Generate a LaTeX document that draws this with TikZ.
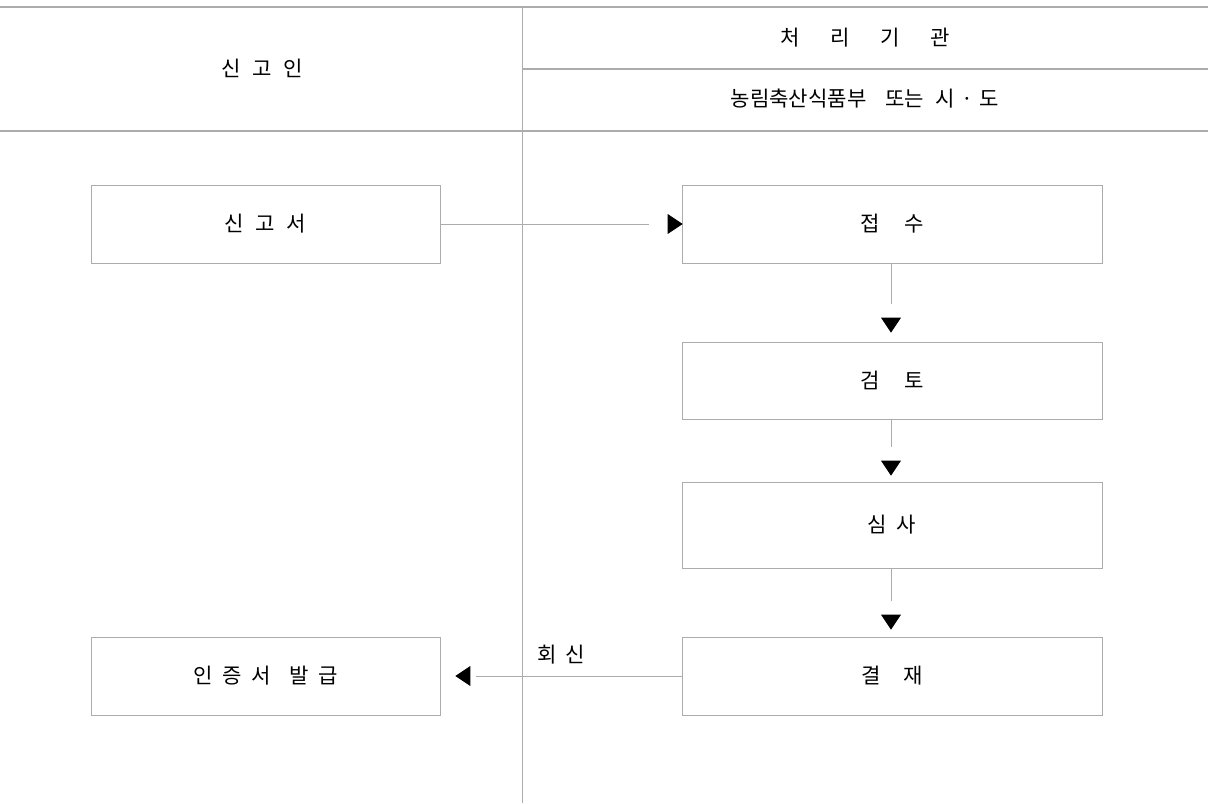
\documentclass[tikz,border=0pt]{standalone}
\usepackage{fontspec}
\setmainfont{Noto Sans CJK KR}
\usetikzlibrary{shapes.geometric,positioning}
\definecolor{rulegray}{RGB}{172,172,172}
\newcommand{\gapem}[1]{\hspace{#1em}}

\begin{document}
\begin{tikzpicture}[x=0.025cm,y=-0.025cm,
	font=\fontsize{15}{18}\selectfont,
	box/.style={draw=rulegray,line width=0.6pt,inner sep=0pt,minimum height=1.95cm},
	lbox/.style={box,minimum width=8.725cm},
	rbox/.style={box,minimum width=10.5cm},
	tip/.style={isosceles triangle,isosceles triangle stretches,fill=black,inner sep=0pt,
		minimum width=0.5cm,minimum height=0.375cm},
	flow/.style={draw=rulegray,line width=0.6pt}]

\useasboundingbox (0,0) rectangle (1208,803);

% header
\draw[rulegray,line width=1.4pt] (0,7) -- (1208,7);
\draw[rulegray,line width=1pt] (522,69) -- (1208,69);
\draw[rulegray,line width=1pt] (0,131) -- (1208,131);
\draw[rulegray,line width=0.6pt] (522,7) -- (522,803);

\node (who) at (262,68) {신\gapem{0.55}고\gapem{0.55}인};
\node (org) at (865,38) {처\gapem{1.45}리\gapem{1.45}기\gapem{1.45}관};
\node (dept) at (865,99) {농림축산식품부\gapem{0.9}또는\gapem{0.55}시\gapem{0.3}·\gapem{0.3}도};

% boxes
\node[lbox] (apply) at (265.5,224) {신\gapem{0.55}고\gapem{0.55}서};
\node[rbox] (recv) at (892,224) {접\gapem{1.15}수};
\node[rbox,minimum height=1.925cm] (check) at (892,380.5) {검\gapem{1.15}토};
\node[rbox,minimum height=2.15cm] (exam) at (892,525) {심\gapem{0.45}사};
\node[rbox] (sign) at (892,676) {결\gapem{1.1}재};
\node[lbox] (issue) at (265.5,676) {인\gapem{0.45}증\gapem{0.45}서\gapem{0.9}발\gapem{0.45}급};

% arrow tips
\node[tip] (t1) at (673,224) {};
\node[tip,rotate=-90] (t2) at (891,323) {};
\node[tip,rotate=-90] (t3) at (891,466) {};
\node[tip,rotate=-90] (t4) at (891,620) {};
\node[tip,rotate=180] (t5) at (465,676) {};

% connectors
\draw[flow,shorten >=0.45cm] (apply.east) -- (t1.west);
\draw[flow,shorten >=0.33cm] (recv.south -| t2) -- (t2.west);
\draw[flow,shorten >=0.33cm] (check.south -| t3) -- (t3.west);
\draw[flow,shorten >=0.33cm] (exam.south -| t4) -- (t4.west);
\draw[flow,shorten >=0.13cm] (sign.west) -- (t5.west);

\node (reply) at (561,655) {회\gapem{0.42}신};

\end{tikzpicture}
\end{document}
